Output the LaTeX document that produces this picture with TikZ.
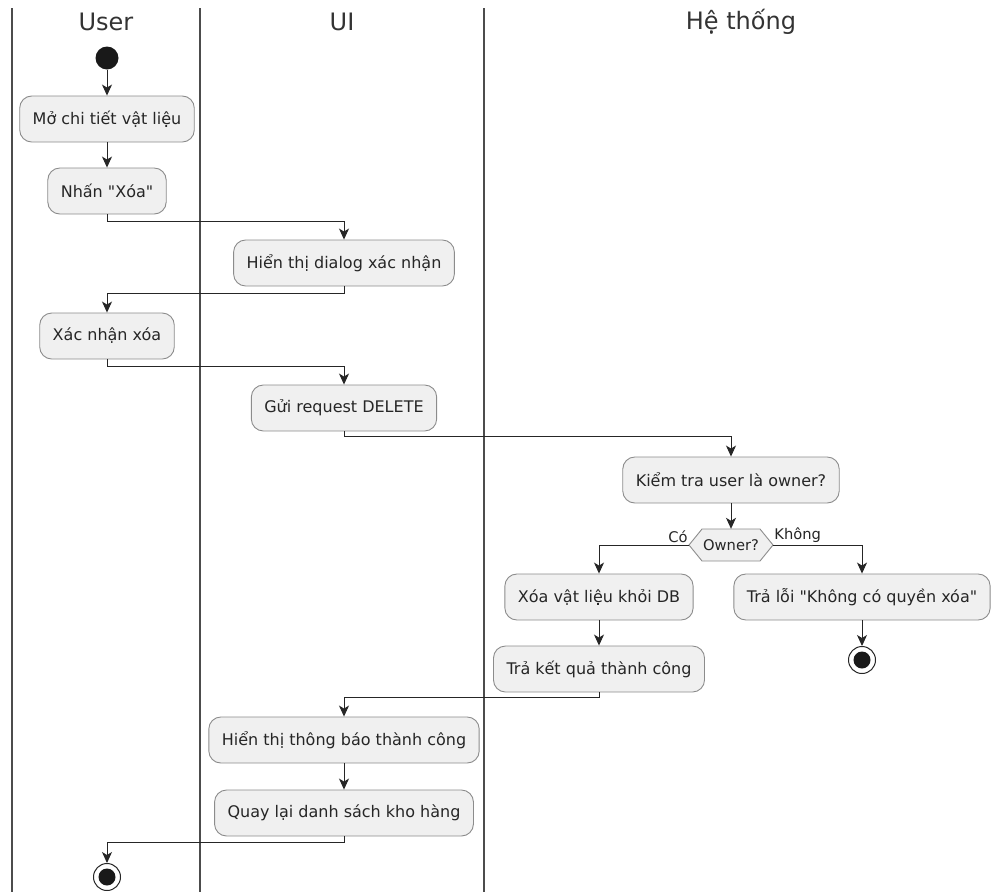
\documentclass[tikz,border=0pt]{standalone}
\usepackage{fontspec}
\setmainfont{DejaVu Sans}[Ligatures=TeXOff]
\usetikzlibrary{arrows.meta,calc}

\begin{document}
\begin{tikzpicture}[x=1pt,y=-1pt,
  act/.style={draw=black!45, line width=0.9pt, fill=black!6, rounded corners=12pt,
    minimum height=46pt, inner xsep=13pt, font=\fontsize{16}{19}\selectfont, text=black!85},
  flow/.style={draw=black!85, line width=1pt, -{Stealth[length=11pt,width=10pt,inset=3pt]}},
  lane/.style={draw=black!70, line width=1.6pt},
  lanetitle/.style={font=\fontsize{24}{28}\selectfont, text=black!80},
  lbl/.style={font=\fontsize{14.7}{17}\selectfont, text=black!85, inner sep=1pt},
  startdot/.style={circle, fill=black!90, minimum size=23pt, inner sep=0pt},
  enddot/.style={circle, draw=black!85, line width=1pt, fill=white, minimum size=27pt, inner sep=0pt}]

\useasboundingbox (0,0) rectangle (992,892);

% swimlane separators and titles
\draw[lane, line width=2.2pt] (12,8) -- (12,892);
\draw[lane] (200,8) -- (200,892);
\draw[lane] (484,8) -- (484,892);
\node[lanetitle] (tUser) at (106,22) {User};
\node[lanetitle] (tUI) at (342,22) {UI};
\node[lanetitle] (tSys) at (741,22) {Hệ thống};

% User lane
\node[startdot] (start) at (107,58) {};
\node[act] (a1) at (107,119) {Mở chi tiết vật liệu};
\node[act] (a2) at (107,191) {Nhấn "Xóa"};
\node[act] (a4) at (107,336) {Xác nhận xóa};
\node[enddot] (endL) at (107,877) {};
\fill[black!90] (endL) circle (8.5pt);

% UI lane
\node[act] (a3) at (344,263) {Hiển thị dialog xác nhận};
\node[act] (a5) at (344,408) {Gửi request DELETE};
\node[act] (d1) at (344,740) {Hiển thị thông báo thành công};
\node[act] (d2) at (344,813) {Quay lại danh sách kho hàng};

% System lane
\node[act] (a6) at (731,480) {Kiểm tra user là owner?};
\coordinate (dc) at (731,545);
\draw[draw=black!45, line width=0.9pt, fill=black!6]
  ($(dc)+(-42,0)$) -- ($(dc)+(-29,-16)$) -- ($(dc)+(29,-16)$) -- ($(dc)+(42,0)$)
  -- ($(dc)+(29,16)$) -- ($(dc)+(-29,16)$) -- cycle;
\node[lbl, minimum width=84pt, minimum height=32pt, inner sep=0pt] (dec) at (dc) {Owner?};
\node[act] (b1) at (599,597) {Xóa vật liệu khỏi DB};
\node[act] (b2) at (599,669) {Trả kết quả thành công};
\node[act] (c1) at (862,597) {Trả lỗi "Không có quyền xóa"};
\node[enddot] (endR) at (862,660) {};
\fill[black!90] (endR) circle (8.5pt);

% control flow
\draw[flow] (start) -- (a1);
\draw[flow] (a1) -- (a2);
\draw[flow] (a2.south) -- ++(0,7) -| (a3.north);
\draw[flow] (a3.south) -- ++(0,7) -| (a4.north);
\draw[flow] (a4.south) -- ++(0,7) -| (a5.north);
\draw[flow] (a5.south) -- ++(0,5) -| (a6.north);
\draw[flow] (a6.south) -- (dec.north);
\draw[flow] (dec.west) -| (b1.north);
\draw[flow] (dec.east) -| (c1.north);
\node[lbl, anchor=south east] (yes) at ($(dec.west)+(0,-1)$) {Có};
\node[lbl, anchor=south west] (no) at ($(dec.east)+(0,-1)$) {Không};
\draw[flow] (b1) -- (b2);
\draw[flow] (c1) -- (endR);
\draw[flow] (b2.south) -- ++(0,5) -| (d1.north);
\draw[flow] (d1) -- (d2);
\draw[flow] (d2.south) -- ++(0,6) -| (endL.north);
\end{tikzpicture}
\end{document}
